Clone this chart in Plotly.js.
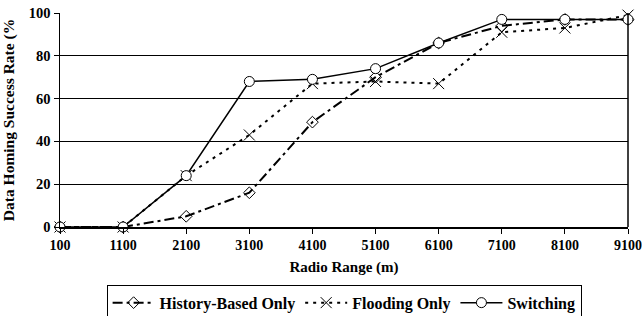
<!DOCTYPE html>
<html><head><meta charset="utf-8">
<script src="https://cdn.plot.ly/plotly-3.0.1.min.js"></script>
<style>html,body{margin:0;padding:0;background:#fff}#c{width:642px;height:316px}</style>
</head><body><div id="c"></div>
<script>
const radioRange = [100, 1100, 2100, 3100, 4100, 5100, 6100, 7100, 8100, 9100];
const historyBased = [0, 0, 5, 16, 49, 70, 86, 94, 97, 97];
const floodingOnly = [0, 0, 24, 43, 67, 68, 67, 91, 93, 99];
const switching = [0, 0, 24, 68, 69, 74, 86, 97, 97, 97];
const seriesNames = ['History-Based Only', 'Flooding Only', 'Switching'];
const yTicks = [0, 20, 40, 60, 80, 100];

const F = 'Liberation Serif';
const traces = [
  {x: radioRange, y: historyBased, name: seriesNames[0], mode: 'lines+markers',
   line: {color: '#000', width: 2, dash: '10px,4px,3px,4px'},
   marker: {symbol: 'diamond-open', size: 9, color: '#000', line: {width: 1}}, cliponaxis: false},
  {x: radioRange, y: floodingOnly, name: seriesNames[1], mode: 'lines+markers',
   line: {color: '#000', width: 2, dash: '3px,5px'},
   marker: {symbol: 'x-thin-open', size: 11, color: '#000', line: {width: 1, color: '#000'}}, cliponaxis: false},
  {x: radioRange, y: switching, name: seriesNames[2], mode: 'lines+markers',
   line: {color: '#000', width: 1.5},
   marker: {symbol: 'circle', size: 10, color: '#fff', line: {width: 1, color: '#000'}}, cliponaxis: false}
];
const layout = {
  width: 642, height: 316,
  margin: {l: 60, r: 14, t: 13, b: 89, autoexpand: false},
  paper_bgcolor: '#fff', plot_bgcolor: '#fff',
  font: {family: F, color: '#000', size: 14},
  showlegend: true,
  legend: {orientation: 'h', xref: 'container', x: 0.536, xanchor: 'center', yref: 'container', y: 0.042, yanchor: 'middle',
           bordercolor: '#000', borderwidth: 1, font: {family: F, size: 16, weight: 'bold'},
           itemwidth: 42, tracegroupgap: 0},
  xaxis: {range: [100, 9100], tickvals: radioRange, ticktext: radioRange.map(String),
          showgrid: false, zeroline: false, showline: true, linecolor: '#000', linewidth: 1.5,
          ticks: 'outside', ticklen: 5, tickcolor: '#000', mirror: false,
          tickfont: {family: F, size: 14, weight: 'bold'},
          title: {text: 'Radio Range (m)', font: {family: F, size: 15, weight: 'bold'}, standoff: 9}},
  yaxis: {range: [0, 100], tickvals: yTicks, showgrid: true, gridcolor: '#000', gridwidth: 1,
          zeroline: false, showline: true, linecolor: '#000', linewidth: 1.5,
          ticks: 'outside', ticklen: 5, tickcolor: '#000',
          tickfont: {family: F, size: 14.5, weight: 'bold'},
          title: {text: 'Data Homing Success Rate (%', font: {family: F, size: 15.5, weight: 'bold'}, standoff: 10}},
  shapes: [{type: 'line', xref: 'paper', yref: 'paper', x0: 1, x1: 1, y0: 0, y1: 1, line: {color: '#000', width: 1.5}}]
};
Plotly.newPlot('c', traces, layout, {displayModeBar: false, staticPlot: true});
</script></body></html>
